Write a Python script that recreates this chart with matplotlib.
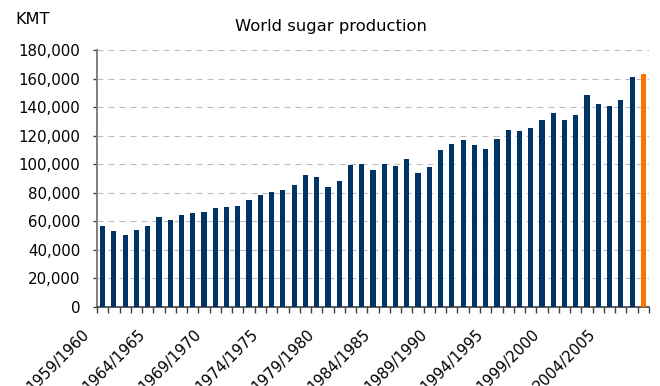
import matplotlib
matplotlib.use("Agg")
import matplotlib.pyplot as plt
import matplotlib.transforms as mtransforms
from matplotlib.ticker import FuncFormatter, FixedLocator
import numpy as np

# Crop years 1959/1960 .. 2007/2008, production in thousand metric tonnes
seasons = [f"{y}/{y + 1}" for y in range(1959, 2008)]
production = [
    57000, 53500, 50700, 54100, 57000, 63300, 61200, 64700, 66100, 66800,
    69600, 70300, 71000, 75200, 78700, 80800, 82200, 85700, 92700, 91300,
    84300, 88500, 99700, 100400, 96200, 100400, 99000, 103900, 94100, 98300,
    110200, 114400, 117200, 113700, 110900, 117900, 124200, 123500, 125600, 131200,
    136100, 131200, 134700, 148700, 142400, 141000, 145200, 161300, 163400,
]
labelled_every = 5

plt.rcParams["font.family"] = ["DejaVu Sans"]

navy = "#003366"
orange = "#FF7300"

fig = plt.figure(figsize=(6.6, 3.86), dpi=100)
ax = fig.add_axes([97 / 660, 79 / 386, (649 - 97) / 660, (307 - 50) / 386])

x = np.arange(len(production))
colors = [navy] * (len(production) - 1) + [orange]
ax.bar(x, production, width=0.46, color=colors, zorder=3)

ax.set_xlim(-0.5, len(production) - 0.5)
ax.set_ylim(0, 180000)
ax.set_yticks(np.arange(0, 180001, 20000))
ax.yaxis.set_major_formatter(FuncFormatter(lambda v, p: f"{int(v):,}"))

ax.yaxis.grid(True, linestyle=(0, (5.4, 4.5)), color="#BDBDBD", lw=0.8, zorder=0)
ax.xaxis.grid(False)

for side in ("top", "right"):
    ax.spines[side].set_visible(False)
ax.spines["left"].set_color("#7F7F7F")
ax.spines["left"].set_linewidth(1.4)
ax.spines["bottom"].set_color("#404040")
ax.spines["bottom"].set_linewidth(1.2)

ax.tick_params(axis="y", length=3, width=1, color="#404040", pad=9, labelsize=10.8)

# category labels at bar centres, tick marks at category boundaries
label_pos = x[::labelled_every]
ax.xaxis.set_major_locator(FixedLocator(label_pos))
ax.set_xticklabels([seasons[i] for i in label_pos])
ax.xaxis.set_minor_locator(FixedLocator(np.arange(-0.5, len(production), 1.0)))
ax.tick_params(axis="x", which="major", length=0, pad=14, labelsize=10.8)
ax.tick_params(axis="x", which="minor", length=4, width=1, color="#404040")

shift = mtransforms.ScaledTranslation(-11 / 100, 0, fig.dpi_scale_trans)
for lab in ax.get_xticklabels():
    lab.set_rotation(45)
    lab.set_ha("right")
    lab.set_va("top")
    lab.set_transform(lab.get_transform() + shift)

fig.text(15 / 660, 1 - 20 / 386, "KMT", fontsize=11.6, ha="left", va="center")
fig.text(331 / 660, 1 - 26 / 386, "World sugar production", fontsize=11.8,
         ha="center", va="center")

fig.savefig("out.png", dpi=100)
